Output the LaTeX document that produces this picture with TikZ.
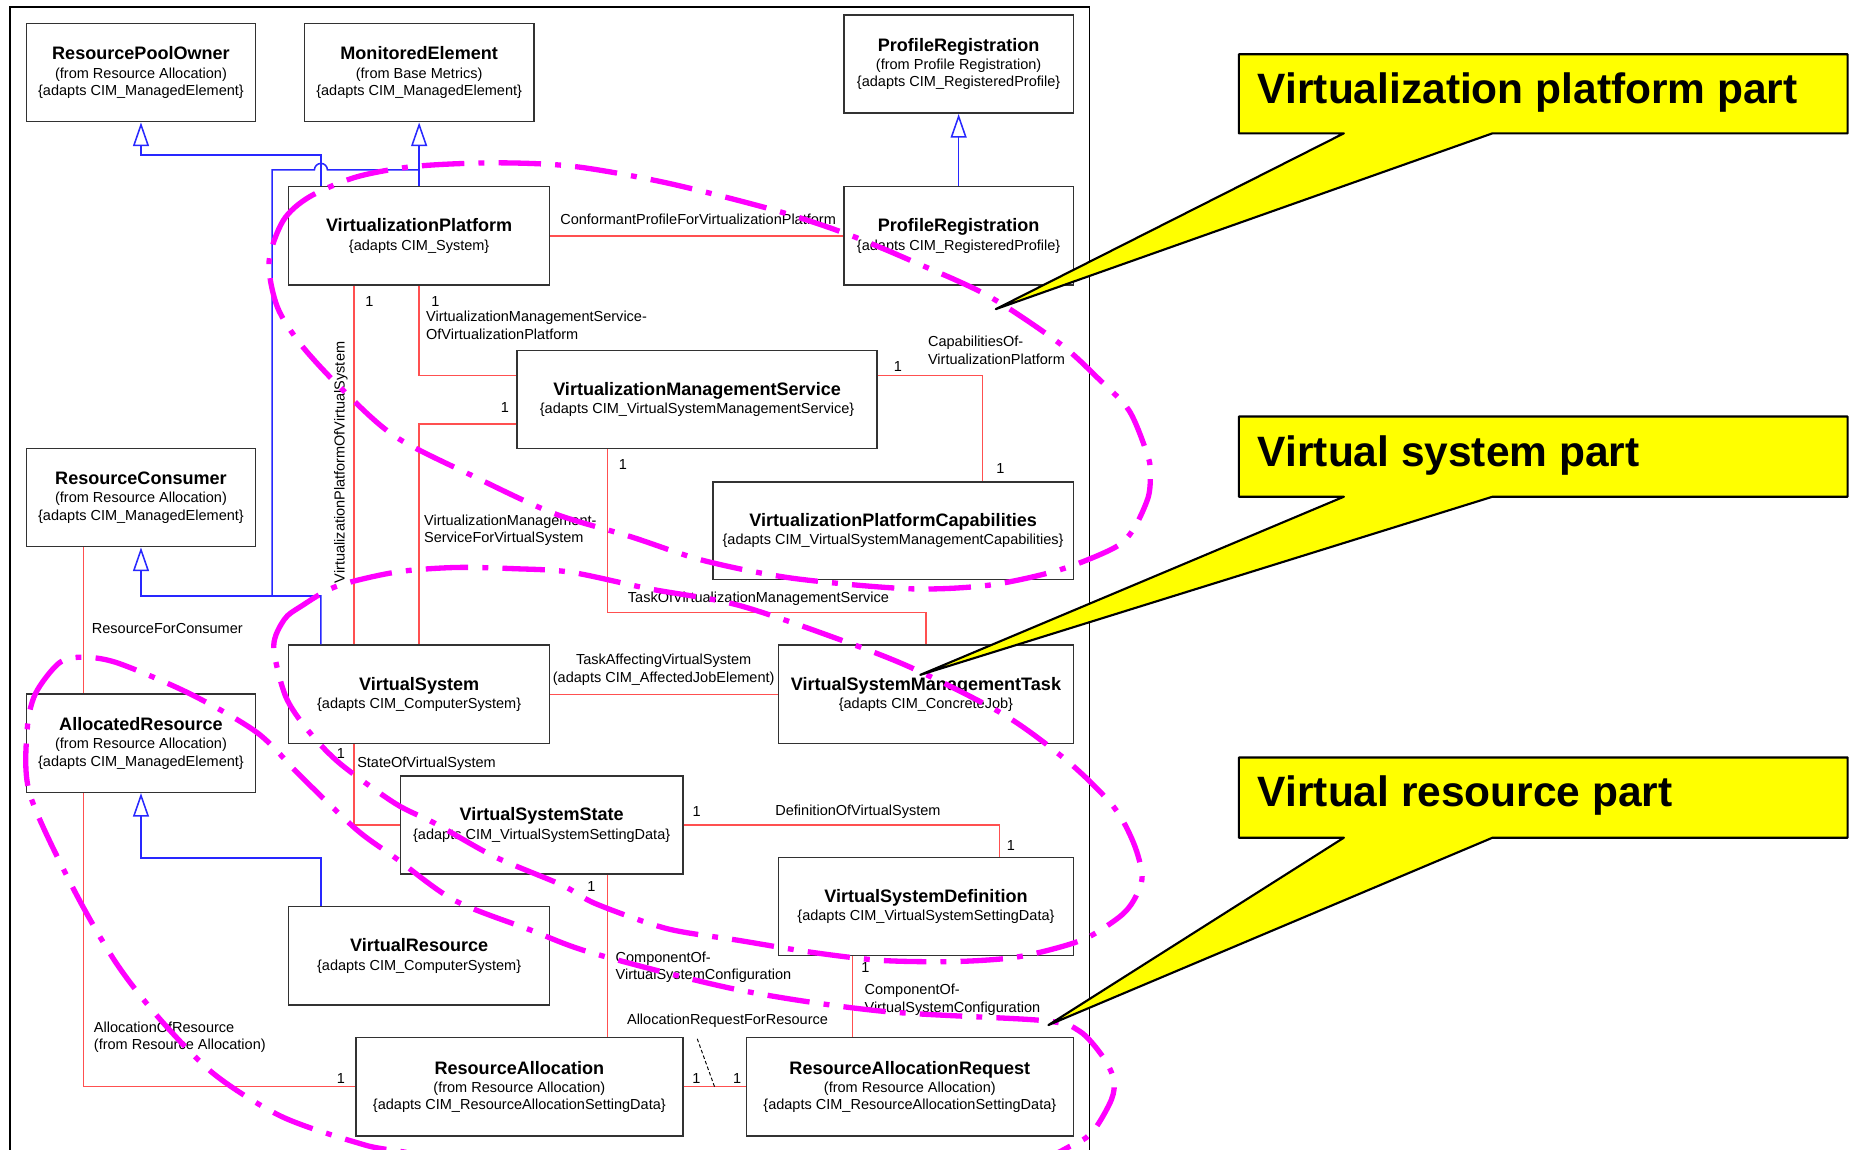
\documentclass[tikz,border=0pt]{standalone}
\usepackage{fontspec}
\setmainfont{Liberation Sans}
\usetikzlibrary{arrows.meta,calc}

\definecolor{assocred}{RGB}{255,80,80}
\definecolor{genblue}{RGB}{40,40,255}
\definecolor{boxline}{RGB}{50,50,50}
\definecolor{ringmagenta}{RGB}{255,0,255}
\definecolor{calloutyellow}{RGB}{255,255,0}

\newcommand\clsname[1]{{\fontsize{15.3}{17}\selectfont\bfseries #1}}

\tikzset{
  cls/.style={draw=boxline, line width=1.3pt, fill=white, minimum height=83.3pt,
    inner sep=0pt, align=center, font=\fontsize{12.3}{14.6}\selectfont},
  gen/.style={draw=genblue, line width=1.3pt},
  genarrow/.style={gen, -{Triangle[length=20pt, width=13.5pt, fill=white]}},
  assoc/.style={draw=assocred, line width=1.1pt},
  classlink/.style={draw=black, line width=0.8pt, dash pattern=on 3pt off 2pt},
  lbl/.style={inner sep=0pt, anchor=west, align=left, font=\fontsize{12.3}{14.8}\selectfont},
  mult/.style={inner sep=0pt, font=\fontsize{12.3}{14}\selectfont},
  ring/.style={draw=ringmagenta, line width=4.5pt,
    dash pattern=on 36pt off 12pt on 5pt off 12pt},
  callout/.style={fill=calloutyellow, draw=black, line width=1.8pt, line join=round},
  callouttext/.style={inner sep=0pt, anchor=base west, font=\fontsize{36}{40}\selectfont\bfseries}
}

\begin{document}
\begin{tikzpicture}[x=1pt, y=-1pt]
\useasboundingbox (0,0) rectangle (1568,974);
\fill[white] (0,0) rectangle (1568,974);

% package frame
\draw[line width=1.4pt, black] (8.4,995) -- (8.4,5.7) -- (923.5,5.7) -- (923.5,995);

% classes
\node[cls, minimum width=194pt] (RPO) at (119.5,61.5)
  {\clsname{ResourcePoolOwner}\\[1pt](from Resource Allocation)\\\{adapts CIM\_ManagedElement\}};
\node[cls, minimum width=194.5pt] (ME) at (355.25,61.5)
  {\clsname{MonitoredElement}\\[1pt](from Base Metrics)\\\{adapts CIM\_ManagedElement\}};
\node[cls, minimum width=194.4pt] (PR1) at (812.5,54.35)
  {\clsname{ProfileRegistration}\\[1pt](from Profile Registration)\\\{adapts CIM\_RegisteredProfile\}};
\node[cls, minimum width=221.3pt] (VP) at (355.25,199.9)
  {\clsname{VirtualizationPlatform}\\[1pt]\{adapts CIM\_System\}};
\node[cls, minimum width=194.4pt] (PR2) at (812.5,199.9)
  {\clsname{ProfileRegistration}\\[1pt]\{adapts CIM\_RegisteredProfile\}};
\node[cls, minimum width=304.8pt, minimum height=83pt] (VMS) at (590.8,338.5)
  {\clsname{VirtualizationManagementService}\\[1pt]\{adapts CIM\_VirtualSystemManagementService\}};
\node[cls, minimum width=194pt] (RC) at (119.5,421.7)
  {\clsname{ResourceConsumer}\\[1pt](from Resource Allocation)\\\{adapts CIM\_ManagedElement\}};
\node[cls, minimum width=305.5pt, minimum height=82.7pt] (VPC) at (756.95,449.65)
  {\clsname{VirtualizationPlatformCapabilities}\\[1pt]\{adapts CIM\_VirtualSystemManagementCapabilities\}};
\node[cls, minimum width=221.3pt] (VS) at (355.25,588.35)
  {\clsname{VirtualSystem}\\[1pt]\{adapts CIM\_ComputerSystem\}};
\node[cls, minimum width=249.8pt] (VSMT) at (784.8,588.35)
  {\clsname{VirtualSystemManagementTask}\\[1pt]\{adapts CIM\_ConcreteJob\}};
\node[cls, minimum width=194pt] (AR) at (119.5,629.9)
  {\clsname{AllocatedResource}\\[1pt](from Resource Allocation)\\\{adapts CIM\_ManagedElement\}};
\node[cls, minimum width=239.2pt] (VSS) at (459.1,699.25)
  {\clsname{VirtualSystemState}\\[1pt]\{adapts CIM\_VirtualSystemSettingData\}};
\node[cls, minimum width=249.8pt] (VSD) at (784.8,768.35)
  {\clsname{VirtualSystemDefinition}\\[1pt]\{adapts CIM\_VirtualSystemSettingData\}};
\node[cls, minimum width=221.3pt] (VR) at (355.25,810.15)
  {\clsname{VirtualResource}\\[1pt]\{adapts CIM\_ComputerSystem\}};
\node[cls, minimum width=277pt] (RA) at (440.2,921.15)
  {\clsname{ResourceAllocation}\\[1pt](from Resource Allocation)\\\{adapts CIM\_ResourceAllocationSettingData\}};
\node[cls, minimum width=277.1pt] (RAR) at (771.15,921.15)
  {\clsname{ResourceAllocationRequest}\\[1pt](from Resource Allocation)\\\{adapts CIM\_ResourceAllocationSettingData\}};

% routing points
\coordinate (xA) at (272,131.4);
\coordinate (jVS) at (272,505);
\coordinate (jL) at (230.6,505);
\coordinate (jT) at (230.6,144);
\coordinate (jVR) at (272,727);
\coordinate (x300) at (300,0);
\coordinate (kVMSa) at (355.25,318);
\coordinate (kVMSb) at (355.25,359.4);
\coordinate (kCap) at (833,318);
\coordinate (kTask) at (514.8,519);
\coordinate (x847) at (847,0);
\coordinate (x723) at (722.8,0);
\coordinate (x71) at (71,0);
\coordinate (acl) at (591,880.5);

% generalizations
\draw[genarrow] (VP.north -| xA) -- (xA) -| (RPO.south);
\draw[genarrow] (VP.north) -- (ME.south);
\draw[gen] (VS.north -| jVS) -- (jVS) -- (jL) -- (jT)
  -- ($(xA |- jT)+(-5.5,0)$) arc[start angle=180, end angle=360, radius=5.5]
  -- (ME.south |- jT);
\draw[genarrow] (jVS) -| (RC.south);
\draw[genarrow] (PR2.north) -- (PR1.south);
\draw[genarrow] (VR.north -| jVR) -- (jVR) -| (AR.south);

% associations
\draw[assoc] (VP.east) -- (PR2.west);
\draw[assoc] (VP.south -| x300) -- (VS.north -| x300);
\draw[assoc] (VS.south -| x300) |- (VSS.west);
\draw[assoc] (VP.south) -- (kVMSa) -- (VMS.west |- kVMSa);
\draw[assoc] (VMS.west |- kVMSb) -- (kVMSb) -- (VS.north);
\draw[assoc] (VMS.east |- kCap) -- (kCap) -- (VPC.north -| kCap);
\draw[assoc] (VMS.south -| kTask) -- (kTask) -| (VSMT.north);
\draw[assoc] (VS.east) -- (VSMT.west);
\draw[assoc] (VSS.east) -| (VSD.north -| x847);
\draw[assoc] (VSS.south -| kTask) -- (RA.north -| kTask);
\draw[assoc] (VSD.south -| x723) -- (RAR.north -| x723);
\draw[assoc] (RC.south -| x71) -- (AR.north -| x71);
\draw[assoc] (AR.south -| x71) |- (RA.west);
\draw[assoc] (RA.east) -- (RAR.west);
\draw[classlink] (acl) -- ($(RA.east)!0.5!(RAR.west)$);

% association names
\node[lbl] (lConf) at (474.7,186) {ConformantProfileForVirtualizationPlatform};
\node[lbl] (lVMSVP) at (361,275.7) {VirtualizationManagementService-\\OfVirtualizationPlatform};
\node[lbl] (lCap) at (786.4,297) {CapabilitiesOf-\\VirtualizationPlatform};
\node[lbl, anchor=center, rotate=90] (lVPVS) at (289,392) {VirtualizationPlatformOfVirtualSystem};
\node[lbl] (lVMSVS) at (359.3,449.5) {VirtualizationManagement-\\ServiceForVirtualSystem};
\node[lbl] (lTask) at (532,507.7) {TaskOfVirtualizationManagementService};
\node[lbl] (lRFC) at (77.7,532.6) {ResourceForConsumer};
\node[lbl, anchor=center, align=center] (lTAVS) at (562.5,567.5) {TaskAffectingVirtualSystem\\(adapts CIM\_AffectedJobElement)};
\node[lbl] (lState) at (302.6,647) {StateOfVirtualSystem};
\node[lbl] (lDef) at (657,688.3) {DefinitionOfVirtualSystem};
\node[lbl] (lComp1) at (521.6,820) {ComponentOf-\\VirtualSystemConfiguration};
\node[lbl] (lComp2) at (732.6,847.4) {ComponentOf-\\VirtualSystemConfiguration};
\node[lbl] (lAOR) at (79.4,879) {AllocationOfResource\\(from Resource Allocation)};
\node[lbl] (lARFR) at (531.3,865.4) {AllocationRequestForResource};

% multiplicities
\node[mult] (m1) at (313,255.5) {1};
\node[mult] (m2) at (369,255.5) {1};
\node[mult] (m3) at (428,345) {1};
\node[mult] (m4) at (761,311) {1};
\node[mult] (m5) at (848,397) {1};
\node[mult] (m6) at (528,393.3) {1};
\node[mult] (m7) at (289,638.5) {1};
\node[mult] (m8) at (590.5,688) {1};
\node[mult] (m9) at (856.7,716.5) {1};
\node[mult] (m10) at (501.3,751) {1};
\node[mult] (m11) at (733.4,820.2) {1};
\node[mult] (m12) at (289,914) {1};
\node[mult] (m13) at (590.3,914) {1};
\node[mult] (m14) at (624.7,914) {1};

% grouping rings
\draw[ring] plot[smooth cycle] coordinates {
  (228,222) (240,187) (262,167) (302,150) (352,141) (419,138) (486,141)
  (565,155) (656,178) (717,198) (777,223) (838,251) (898,291) (930,320)
  (957,348) (973,387) (975,403) (973,422) (961,448) (945,464) (898,483)
  (838,496) (770,499) (671,490) (596,475) (535,455) (469,435) (402,404)
  (335,370) (290,330) (255,292) (235,260)};
\draw[ring] plot[smooth cycle] coordinates {
  (232,548) (241,525) (255,514) (285,497) (335,485) (385,481) (436,482)
  (484,485) (550,499) (626,513) (717,544) (777,568) (853,607) (907,647)
  (944,684) (961,715) (968,743) (961,763) (949,777) (921,795) (890,805)
  (856,812) (808,815) (747,814) (687,807) (626,797) (565,787) (505,766)
  (476,750) (419,726) (369,698) (335,681) (288,647) (261,619) (242,590)};
\draw[ring] plot[smooth cycle] coordinates {
  (23,619) (30,588) (50,562) (70,557) (100,562) (161,588) (218,621)
  (255,658) (302,703) (335,727) (385,763) (449,788) (503,808) (626,839)
  (747,857) (884,865) (915,874) (935,896) (944,915) (942,932) (927,958)
  (910,970) (860,988) (700,1000) (500,997) (340,976) (301,968) (238,946)
  (181,910) (134,862) (97,814) (60,749) (25,672)};

% callouts
\coordinate (tipVP) at (844,262);
\coordinate (tipVS) at (780,572);
\coordinate (tipVR) at (888.6,868.8);
\filldraw[callout] (1050,46) -- (1566,46) -- (1566,113) -- (1265,113) -- (tipVP)
  -- (1139,113) -- (1050,113) -- cycle;
\filldraw[callout] (1050,353) -- (1566,353) -- (1566,421) -- (1265,421) -- (tipVS)
  -- (1139,421) -- (1050,421) -- cycle;
\filldraw[callout] (1050,642) -- (1566,642) -- (1566,710) -- (1265,710) -- (tipVR)
  -- (1139,710) -- (1050,710) -- cycle;
\node[callouttext] (cVP) at (1066,87.6) {Virtualization platform part};
\node[callouttext] (cVS) at (1066,395.4) {Virtual system part};
\node[callouttext] (cVR) at (1066,683.6) {Virtual resource part};
\end{tikzpicture}
\end{document}
